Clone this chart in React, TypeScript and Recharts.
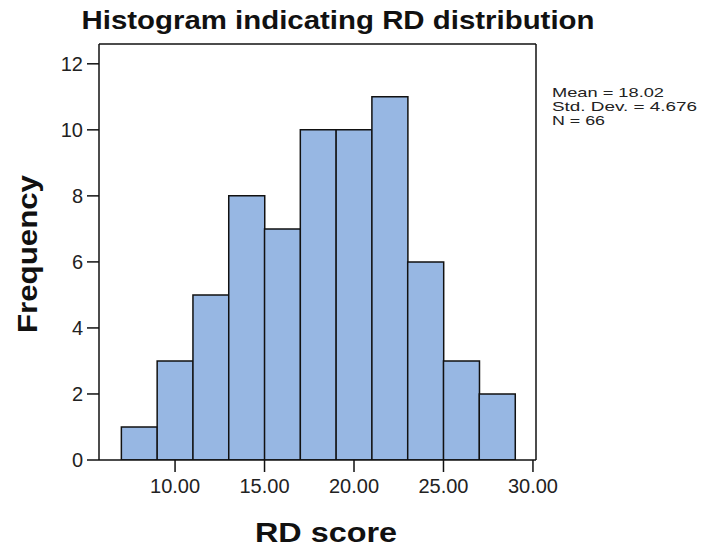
import { BarChart, Bar, XAxis, YAxis, ReferenceLine } from "recharts";

// bin centres (bins are 2 units wide, 7..29)
const binCenters = [8, 10, 12, 14, 16, 18, 20, 22, 24, 26, 28];
const frequencies = [1, 3, 5, 8, 7, 10, 10, 11, 6, 3, 2];
const xTicks = [10, 15, 20, 25, 30];
const yTicks = [0, 2, 4, 6, 8, 10, 12];
const statLines = ["Mean = 18.02", "Std. Dev. = 4.676", "N = 66"];

const data = binCenters.map((x, i) => ({ x, count: frequencies[i] }));

const X_MIN = 5.75;
const X_MAX = 30.17;
const Y_MAX = 12.6;

const FONT = "'Liberation Sans', Arial, sans-serif";
const BAR_FILL = "#97b7e3";

const App = () => {
  return (
    <div
      style={{
        position: "absolute",
        left: 0,
        top: 0,
        width: 706,
        height: 552,
        background: "#fff",
        fontFamily: FONT,
      }}
    >
      <BarChart
        width={706}
        height={552}
        data={data}
        margin={{ top: 44, right: 170, bottom: 0, left: 0 }}
        barCategoryGap={0}
        barGap={0}
      >
        <XAxis
          dataKey="x"
          type="number"
          domain={[X_MIN, X_MAX]}
          ticks={xTicks}
          tickFormatter={(v: number) => v.toFixed(2)}
          height={92}
          tickSize={12}
          tickMargin={7}
          axisLine={{ stroke: "#111", strokeWidth: 1.5 }}
          tickLine={{ stroke: "#111", strokeWidth: 1.5 }}
          tick={{ fill: "#222", fontSize: 20, fontFamily: FONT }}
          allowDataOverflow
        />
        <YAxis
          type="number"
          domain={[0, Y_MAX]}
          ticks={yTicks}
          width={99}
          tickSize={12}
          tickMargin={4}
          axisLine={{ stroke: "#111", strokeWidth: 1.5 }}
          tickLine={{ stroke: "#111", strokeWidth: 1.5 }}
          tick={{ fill: "#222", fontSize: 20, fontFamily: FONT }}
          allowDataOverflow
        />
        <ReferenceLine y={Y_MAX} stroke="#111" strokeWidth={1.5} />
        <ReferenceLine x={X_MAX} stroke="#111" strokeWidth={1.5} />
        <Bar
          dataKey="count"
          fill={BAR_FILL}
          stroke="#111"
          strokeWidth={1.5}
          isAnimationActive={false}
        />
      </BarChart>
      <svg
        width={706}
        height={552}
        style={{ position: "absolute", left: 0, top: 0, pointerEvents: "none" }}
      >
        <text
          x={338}
          y={28.5}
          textAnchor="middle"
          fontSize={26}
          fontWeight="bold"
          fill="#111"
          textLength={513}
          lengthAdjust="spacingAndGlyphs"
        >
          Histogram indicating RD distribution
        </text>
        <text
          transform="translate(37,254) rotate(-90)"
          textAnchor="middle"
          fontSize={28}
          fontWeight="bold"
          fill="#111"
          textLength={158}
          lengthAdjust="spacingAndGlyphs"
        >
          Frequency
        </text>
        <text
          x={326}
          y={542}
          textAnchor="middle"
          fontSize={28}
          fontWeight="bold"
          fill="#111"
          textLength={142}
          lengthAdjust="spacingAndGlyphs"
        >
          RD score
        </text>
        {statLines.map((s, i) => (
          <text
            key={s}
            x={552}
            y={97 + i * 14}
            fontSize={13}
            fill="#222"
            textLength={[112, 145, 53][i]}
            lengthAdjust="spacingAndGlyphs"
          >
            {s}
          </text>
        ))}
      </svg>
    </div>
  );
};

export default App;
